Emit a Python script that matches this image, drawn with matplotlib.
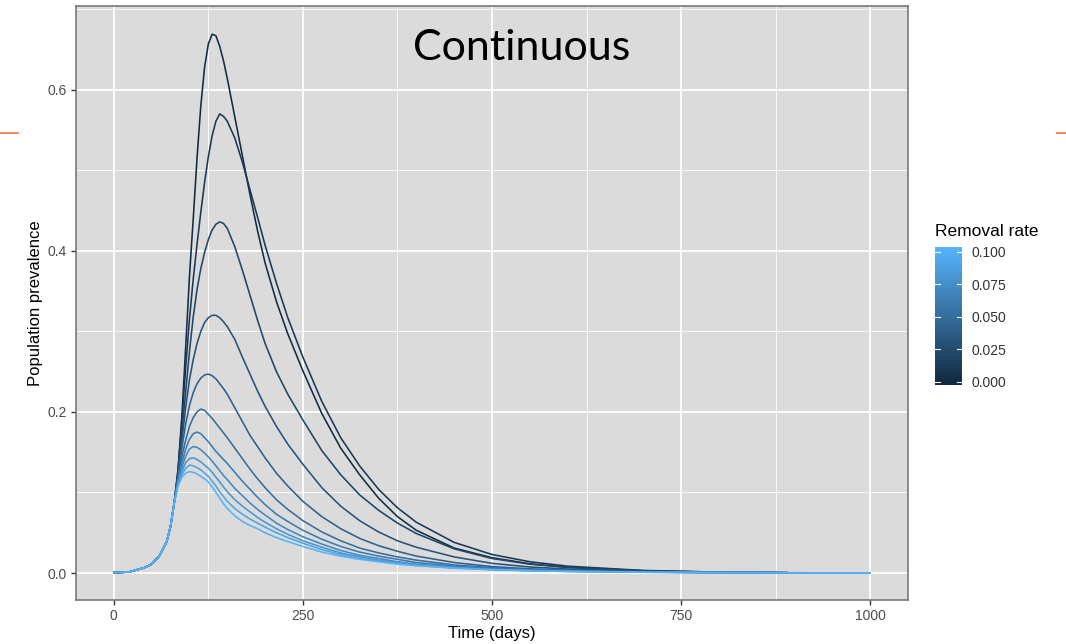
import numpy as np
import matplotlib
matplotlib.use("Agg")
import matplotlib.pyplot as plt
from matplotlib.colors import LinearSegmentedColormap
from matplotlib.lines import Line2D

# time grid (days) shared by all curves
days = [0, 20, 40, 50, 60, 70, 75, 80,
        85, 90, 95, 100, 105, 110, 115, 120, 125, 130, 135, 140, 145, 150,
        160, 170, 180, 190, 200, 215, 230, 250, 275, 300, 325, 350, 375, 400,
        450, 500, 550, 600, 700, 780, 890, 1000]

# early growth, identical for every removal rate
rise = [0.0005, 0.0012, 0.0065, 0.011, 0.021, 0.039, 0.058, 0.088]

removal_rates = [0.00, 0.01, 0.02, 0.03, 0.04, 0.05, 0.06, 0.07, 0.08, 0.09, 0.10]

# prevalence after day 80, one list per removal rate (shorter lists stop earlier)
prev_000 = [0.13, 0.195, 0.28, 0.368, 0.44, 0.515, 0.58, 0.628, 0.657, 0.669, 0.667, 0.654, 0.636, 0.614,
            0.566, 0.518, 0.47, 0.425, 0.385, 0.337, 0.297, 0.251, 0.198, 0.155, 0.122, 0.093, 0.07, 0.053,
            0.031, 0.019, 0.0115, 0.007, 0.0027, 0.0013]
prev_001 = [0.128, 0.188, 0.255, 0.315, 0.365, 0.408, 0.448, 0.485, 0.517, 0.543, 0.561, 0.570, 0.567, 0.561,
            0.54, 0.51, 0.476, 0.442, 0.407, 0.36, 0.317, 0.268, 0.213, 0.168, 0.133, 0.104, 0.081, 0.063,
            0.038, 0.023, 0.014, 0.0085, 0.0032, 0.0015]
prev_002 = [0.125, 0.175, 0.225, 0.275, 0.318, 0.352, 0.378, 0.398, 0.414, 0.426, 0.433, 0.436, 0.434, 0.428,
            0.405, 0.376, 0.345, 0.314, 0.285, 0.25, 0.222, 0.19, 0.152, 0.122, 0.097, 0.078, 0.062, 0.049,
            0.03, 0.018, 0.011, 0.007, 0.0028, 0.0014, 0.0006]
prev_003 = [0.122, 0.165, 0.205, 0.24, 0.265, 0.285, 0.30, 0.311, 0.317, 0.32, 0.32, 0.317, 0.312, 0.306,
            0.29, 0.268, 0.247, 0.226, 0.207, 0.182, 0.16, 0.135, 0.106, 0.083, 0.065, 0.051, 0.04, 0.032,
            0.02, 0.012, 0.0075, 0.005, 0.002, 0.001, 0.0005]
prev_004 = [0.12, 0.155, 0.185, 0.208, 0.224, 0.235, 0.242, 0.246, 0.247, 0.245, 0.241, 0.235, 0.229, 0.222,
            0.205, 0.188, 0.171, 0.157, 0.143, 0.124, 0.108, 0.089, 0.07, 0.055, 0.043, 0.034, 0.027, 0.021,
            0.013, 0.008, 0.0052, 0.0035, 0.0015, 0.0008, 0.0004]
prev_005 = [0.118, 0.145, 0.165, 0.182, 0.193, 0.20, 0.2035, 0.202, 0.197, 0.192, 0.186, 0.18, 0.174, 0.168,
            0.155, 0.142, 0.129, 0.117, 0.106, 0.091, 0.079, 0.065, 0.051, 0.04, 0.031, 0.025, 0.02, 0.016,
            0.01, 0.0065, 0.0043, 0.003, 0.0013, 0.0007, 0.0003]
prev_006 = [0.115, 0.137, 0.154, 0.166, 0.173, 0.175, 0.173, 0.168, 0.163, 0.157, 0.151, 0.146, 0.141, 0.136,
            0.125, 0.114, 0.104, 0.094, 0.085, 0.073, 0.064, 0.053, 0.042, 0.033, 0.026, 0.021, 0.017, 0.013,
            0.0085, 0.0056, 0.0038, 0.0026, 0.0012, 0.0007, 0.0003, 0.0002]
prev_007 = [0.113, 0.131, 0.145, 0.154, 0.157, 0.156, 0.153, 0.149, 0.144, 0.139, 0.133, 0.127, 0.121, 0.116,
            0.105, 0.096, 0.087, 0.079, 0.072, 0.062, 0.054, 0.045, 0.036, 0.028, 0.022, 0.018, 0.014, 0.011,
            0.0072, 0.0048, 0.0033, 0.0023, 0.0011, 0.0006, 0.0003, 0.0002]
prev_008 = [0.111, 0.126, 0.137, 0.142, 0.143, 0.141, 0.138, 0.134, 0.13, 0.125, 0.119, 0.113, 0.107, 0.101,
            0.091, 0.083, 0.076, 0.069, 0.063, 0.055, 0.048, 0.04, 0.032, 0.025, 0.02, 0.016, 0.013, 0.01,
            0.0066, 0.0044, 0.003, 0.0021, 0.001, 0.0006, 0.0003, 0.0002]
prev_009 = [0.11, 0.122, 0.13, 0.134, 0.133, 0.131, 0.128, 0.124, 0.12, 0.114, 0.108, 0.101, 0.095, 0.089,
            0.08, 0.073, 0.067, 0.062, 0.057, 0.05, 0.044, 0.037, 0.029, 0.023, 0.018, 0.015, 0.012, 0.0095,
            0.0062, 0.0042, 0.0029, 0.002, 0.001, 0.0006, 0.0003, 0.0002]
prev_010 = [0.108, 0.119, 0.124, 0.126, 0.125, 0.123, 0.12, 0.117, 0.113, 0.107, 0.10, 0.093, 0.086, 0.08,
            0.071, 0.064, 0.059, 0.055, 0.05, 0.044, 0.039, 0.033, 0.026, 0.021, 0.017, 0.014, 0.011, 0.009,
            0.006, 0.004, 0.0028, 0.0019, 0.001, 0.0006, 0.0003, 0.0002]

curves = [prev_000, prev_001, prev_002, prev_003, prev_004, prev_005,
          prev_006, prev_007, prev_008, prev_009, prev_010]

x_ticks = [0, 250, 500, 750, 1000]
y_ticks = [0.0, 0.2, 0.4, 0.6]
bar_ticks = [0.0, 0.025, 0.05, 0.075, 0.1]

# ggplot2 default continuous colour scale
cmap = LinearSegmentedColormap.from_list("gg", ["#132B43", "#56B1F7"])
panel_bg = "#DBDBDB"
text_grey = "#4D4D4D"

plt.rcParams["font.family"] = ["Liberation Sans", "DejaVu Sans"]

fig = plt.figure(figsize=(10.66, 6.44), dpi=100)
ax = fig.add_axes([76 / 1066, 44 / 644, 832 / 1066, 594 / 644])
ax.set_facecolor(panel_bg)

for rate, vals in zip(removal_rates, curves):
    y = rise + vals
    ax.plot(days[:len(y)], y, color=cmap(rate / 0.1), lw=1.15, zorder=3,
            solid_joinstyle="round")

ax.set_xlim(-50, 1050)
ax.set_ylim(-0.0335, 0.704)
ax.set_xticks(x_ticks)
ax.set_xticklabels([str(v) for v in x_ticks])
ax.set_yticks(y_ticks)
ax.set_yticklabels([f"{v:.1f}" for v in y_ticks])
ax.set_xticks([125, 375, 625, 875], minor=True)
ax.set_yticks([0.1, 0.3, 0.5, 0.7], minor=True)
ax.grid(which="major", color="white", lw=1.3, zorder=1)
ax.grid(which="minor", color="white", lw=0.6, zorder=1)
ax.tick_params(which="major", length=3.5, width=1, color="#333333",
               labelsize=10, labelcolor=text_grey, pad=3)
ax.tick_params(which="minor", length=0)
for side in ax.spines.values():
    side.set_color("#6f6f6f")
    side.set_linewidth(1.1)

ax.set_xlabel("Time (days)", fontsize=12, labelpad=2)
ax.set_ylabel("Population prevalence", fontsize=12, labelpad=3)

ax.text(0.536, 0.93, "Continuous", transform=ax.transAxes, ha="center", va="center",
        fontsize=31, family=["Lato", "DejaVu Sans"], zorder=5)

# colour bar legend
cax = fig.add_axes([935 / 1066, (644 - 385) / 644, 27 / 1066, 138.3 / 644])
lo, hi = -0.0025, 0.1038
grad = np.linspace(lo, hi, 300).reshape(-1, 1)
cax.imshow(grad, cmap=cmap, vmin=0, vmax=0.1, aspect="auto", origin="lower",
           extent=[0, 1, lo, hi])
cax.set_xlim(0, 1)
cax.set_ylim(lo, hi)
for t in bar_ticks:
    cax.plot([0, 0.2], [t, t], color="white", lw=0.8)
    cax.plot([0.8, 1], [t, t], color="white", lw=0.8)
cax.set_xticks([])
cax.yaxis.tick_right()
cax.set_yticks(bar_ticks)
cax.set_yticklabels([f"{t:.3f}" for t in bar_ticks])
cax.tick_params(length=0, pad=7, labelsize=10, labelcolor="#333333")
for side in cax.spines.values():
    side.set_visible(False)
fig.text(935 / 1066, 1 - 231 / 644, "Removal rate", fontsize=12.5, ha="left", va="center")

# small slide marks at the edges
fig.add_artist(Line2D([0, 18 / 1066], [1 - 132.5 / 644] * 2, color="#F47C5A", lw=1.3))
fig.add_artist(Line2D([1057 / 1066, 1], [1 - 132.5 / 644] * 2, color="#F47C5A", lw=1.3))

fig.savefig("out.png", dpi=100, facecolor="white")
